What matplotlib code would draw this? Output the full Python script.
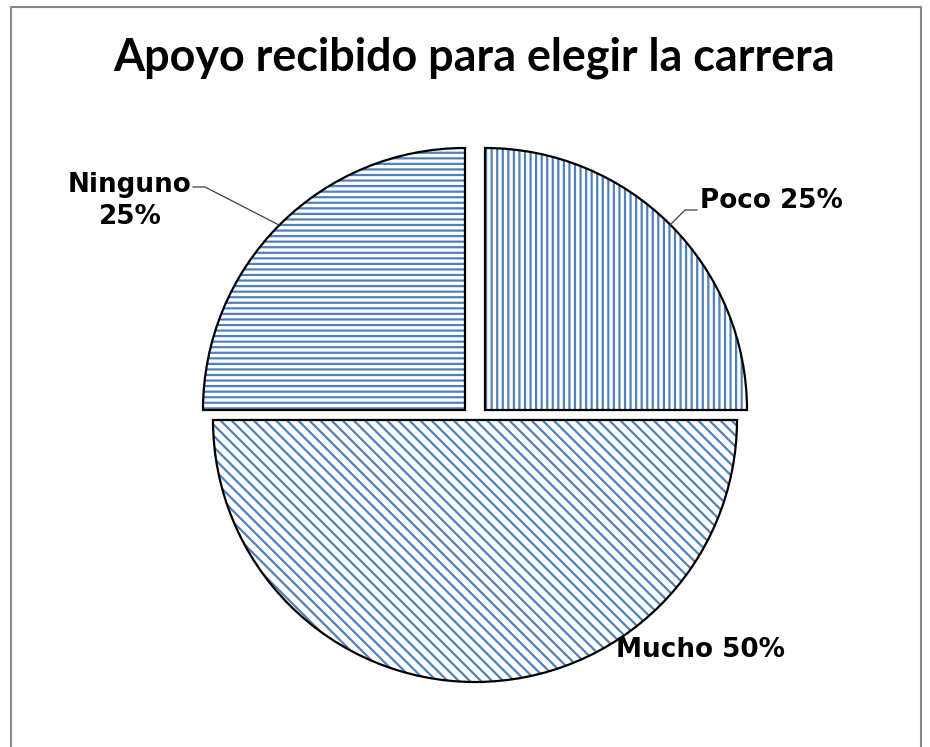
import matplotlib
matplotlib.use("Agg")
import matplotlib.pyplot as plt
from matplotlib.patches import Rectangle
import numpy as np

title = "Apoyo recibido para elegir la carrera"
categories = ["Poco", "Mucho", "Ninguno"]
values = [25, 50, 25]
pct_labels = ["25%", "50%", "25%"]
hatches = ["|||", "\\\\\\", "---"]
explode = [0.054, 0.0, 0.054]

W, H = 930, 747
CX, CY, R = 475, 420, 262

plt.rcParams['hatch.linewidth'] = 1.6

fig = plt.figure(figsize=(W / 100, H / 100), dpi=100)
ax = fig.add_axes([0, 0, 1, 1])


def P(px, py):
    return ((px - CX) / R, (CY - py) / R)


blue = "#4f81bd"
wedges, _ = ax.pie(values, explode=explode, startangle=90, counterclock=False,
                   radius=1.0, center=(0, 0), frame=True,
                   wedgeprops=dict(facecolor="white", edgecolor=blue, linewidth=0))
for w, h in zip(wedges, hatches):
    w.set_hatch(h)
wedges2, _ = ax.pie(values, explode=explode, startangle=90, counterclock=False,
                    radius=1.0, center=(0, 0), frame=True,
                    wedgeprops=dict(fill=False, edgecolor="black", linewidth=1.6))
ax.set_xlim((0 - CX) / R, (W - CX) / R)
ax.set_ylim((CY - H) / R, CY / R)
ax.set_aspect('auto')
ax.axis('off')

lab_font = dict(family="DejaVu Sans", fontweight="bold", fontsize=16, color="black")

t_poco = ax.text(*P(771, 201), f"{categories[0]} {pct_labels[0]}", ha="center", va="center", **lab_font)
ax.plot(*zip(P(697, 210), P(685, 210), P(670, 225)), color="#404040", lw=0.9)
t_mucho = ax.text(*P(700, 650), f"{categories[1]} {pct_labels[1]}", ha="center", va="center", **lab_font)
t_ning = ax.text(*P(130, 201), f"{categories[2]}\n{pct_labels[2]}", ha="center", va="center",
                 multialignment="center", linespacing=1.35, **lab_font)
ax.plot(*zip(P(193, 187), P(205, 187), P(279, 225)), color="#404040", lw=0.9)

t = fig.text(474 / W, 1 - 58 / H, title, ha="center", va="center",
             family="Lato", fontweight="bold", fontsize=33, color="black")
fig.canvas.draw()
bb = t.get_window_extent()
t.set_fontsize(33 * 722 / bb.width)
bbp = t_poco.get_window_extent()
fs = 16 * 143 / bbp.width
for tt in (t_poco, t_mucho, t_ning):
    tt.set_fontsize(fs)

fig.add_artist(Rectangle((11 / W, -0.01), (921 - 11) / W, (H - 7) / H + 0.01,
                         transform=fig.transFigure, fill=False,
                         edgecolor="#888888", linewidth=1.5))

fig.savefig("out.png", dpi=100)
